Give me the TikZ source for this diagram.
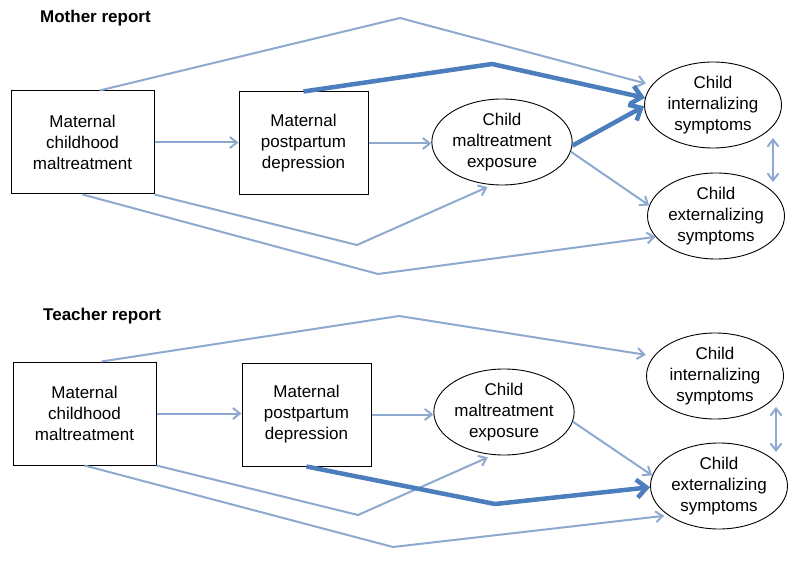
\documentclass[tikz,border=0pt]{standalone}
\usepackage{fontspec}
\setmainfont{Liberation Sans}
\usetikzlibrary{arrows.meta,calc,shapes.geometric}
\definecolor{thinblue}{RGB}{142,169,208}
\definecolor{thickblue}{RGB}{76,125,188}
\tikzset{
  boxnode/.style={draw=black, line width=1pt, minimum width=#1, minimum height=103pt, inner sep=0pt, align=center, font=\fontsize{17}{21}\selectfont},
  ellnode/.style={draw=black, line width=0.9pt, ellipse, minimum width=137pt, minimum height=86pt, inner sep=0pt, align=center, font=\fontsize{17}{21}\selectfont},
  titlenode/.style={anchor=west, inner sep=0pt, font=\fontsize{17}{20}\selectfont\bfseries},
  thinarrow/.style={draw=thinblue, line width=2pt, -{Straight Barb[length=7pt,width=11pt]}},
  thinboth/.style={draw=thinblue, line width=2pt, {Straight Barb[length=7pt,width=11pt]}-{Straight Barb[length=7pt,width=11pt]}},
  thickarrow/.style={draw=thickblue, line width=4.5pt, line join=round, -{Straight Barb[length=10pt,width=18pt]}},
}
\begin{document}
\begin{tikzpicture}[x=1pt,y=-1pt]
\useasboundingbox (0,0) rectangle (800,561);

% ---------------- Mother report ----------------
\node[titlenode] (t1) at (40,18) {Mother report};
\node[boxnode=143pt] (A1) at (82.5,142.5) {Maternal\\childhood\\maltreatment};
\node[boxnode=129pt] (B1) at (303.5,143.5) {Maternal\\postpartum\\depression};
\node[ellnode] (C1) at (502,142) {Child\\maltreatment\\exposure};
\node[ellnode] (D1) at (713,105) {Child\\internalizing\\symptoms};
\node[ellnode] (E1) at (716,216) {Child\\externalizing\\symptoms};

\coordinate (k1) at (400,18);
\coordinate (k2) at (492,64);
\coordinate (k3) at (357,245);
\coordinate (k4) at (378,274);

\draw[thinarrow, shorten >=6pt] ([xshift=89pt]A1.north west) -- (k1) -- (D1.162);
\draw[thinarrow] (A1.east) -- (A1.east -| B1.west);
\draw[thinarrow] (B1.east) -- (B1.east -| C1.west);
\draw[thinarrow] (C1.-8) -- (E1.171);
\draw[thinarrow, shorten >=5pt] (A1.south east) -- (k3) -- (C1.257);
\draw[thinarrow] (A1.south) -- (k4) -- (E1.199);
\draw[thickarrow] (B1.north) -- (k2) -- (D1.174);
\draw[thickarrow] (C1.-3) -- (D1.181);
\draw[thinboth] ($(D1.center)+(60,33)$) -- ($(E1.center)+(57,-34)$);

% ---------------- Teacher report ----------------
\node[titlenode] (t2) at (43,316) {Teacher report};
\node[boxnode=143pt] (A2) at (84.5,413.5) {Maternal\\childhood\\maltreatment};
\node[boxnode=129pt] (B2) at (306.5,414.5) {Maternal\\postpartum\\depression};
\node[ellnode] (C2) at (504,412) {Child\\maltreatment\\exposure};
\node[ellnode] (D2) at (715,376) {Child\\internalizing\\symptoms};
\node[ellnode] (E2) at (719,486) {Child\\externalizing\\symptoms};

\coordinate (m1) at (399,316);
\coordinate (m2) at (495,504);
\coordinate (m3) at (358,515);
\coordinate (m4) at (393,547);

\draw[thinarrow, shorten >=8pt] ([xshift=89pt]A2.north west) -- (m1) -- (D2.162);
\draw[thinarrow] (A2.east) -- (A2.east -| B2.west);
\draw[thinarrow] (B2.east) -- (B2.east -| C2.west);
\draw[thinarrow] (C2.-8) -- (E2.171);
\draw[thinarrow, shorten >=6pt] (A2.south east) -- (m3) -- (C2.256);
\draw[thinarrow, shorten >=4pt] (A2.south) -- (m4) -- (E2.210);
\draw[thickarrow] (B2.south) -- (m2) -- (E2.181);
\draw[thinboth] ($(D2.center)+(61,31)$) -- ($(E2.center)+(57,-34)$);
\end{tikzpicture}
\end{document}
